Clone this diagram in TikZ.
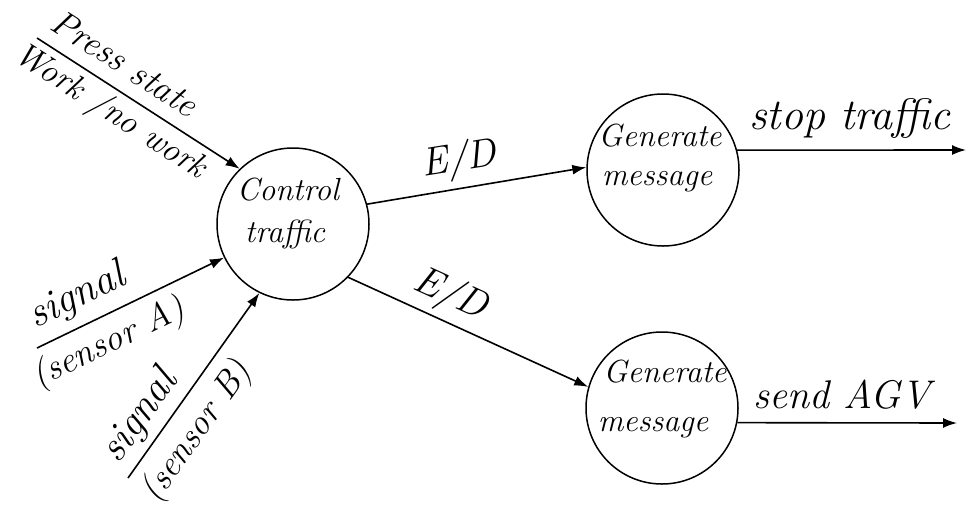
\documentclass[tikz,border=0pt]{standalone}
\usepackage{fontspec}
\usetikzlibrary{arrows.meta}
\begin{document}
\begin{tikzpicture}[x=1pt,y=-1pt,
  bubble/.style={draw, circle, line width=1.5pt, minimum size=152pt, inner sep=0pt},
  flow/.style={line width=1.6pt, -{Latex[length=14pt,width=10pt]}},
  hand/.style={font=\itshape\fontsize{32}{36}\selectfont, inner sep=0pt},
  lab/.style={font=\itshape\fontsize{#1}{#1}\selectfont, inner sep=0pt}]
\useasboundingbox (0,0) rectangle (968,515);
% processes
\node[bubble] (ct) at (293,224) {};
\node[bubble] (g1) at (663,170) {};
\node[bubble] (g2) at (662,408) {};
\node[hand] (ctA) at (288,190) {Control};
\node[hand] (ctB) at (285,234) {traffic};
\node[hand] (g1A) at (660,136) {Generate};
\node[hand] (g1B) at (657,182) {message};
\node[hand] (g2A) at (665,372) {Generate};
\node[hand] (g2B) at (653,428) {message};
% free ends
\coordinate (p1) at (37,38);
\coordinate (sa) at (37,348);
\coordinate (sb) at (128,478);
\coordinate (o1) at (966,150);
\coordinate (o2) at (957,423);
% connectors
\draw[flow] (p1) -- (ct.134);
\draw[flow] (sa) -- (ct.206);
\draw[flow] (sb) -- (ct.244);
\draw[flow] (ct.15.8) -- (g1.178.5);
\draw[flow] (ct.-44.5) -- (g2.164.9);
\draw[flow] (g1.15) -- (o1);
\draw[flow] (g2.-11.3) -- (o2);
% labels
\node[lab=36, rotate=-32.7] (l1) at (125,63) {Press state};
\node[lab=34, rotate=-32.7] (l2) at (110,112) {Work /no work};
\node[lab=42, rotate=25.7] (l3) at (77,297) {signal};
\node[lab=36, rotate=25.7] (l4) at (109,344) {(sensor A)};
\node[lab=42, rotate=54.4] (l5) at (140,417) {signal};
\node[lab=36, rotate=54.4] (l6) at (197,432) {(sensor B)};
\node[lab=40, rotate=9] (l7) at (459,161) {E/D};
\node[lab=40, rotate=-24.6] (l8) at (450,295) {E/D};
\node[lab=44] (l9) at (850,118) {stop traffic};
\node[lab=40] (l10) at (842,395) {send AGV};
\end{tikzpicture}
\end{document}
